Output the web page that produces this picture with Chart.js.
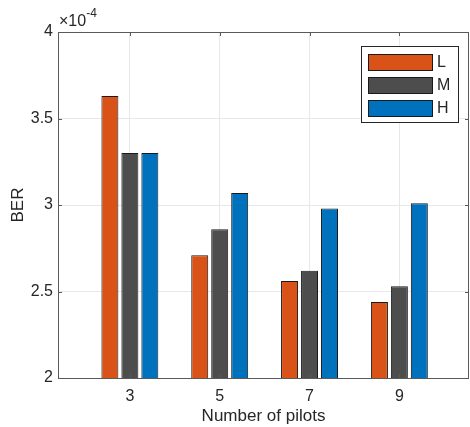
<!DOCTYPE html>
<html>
<head>
<meta charset="utf-8">
<script src="https://cdn.jsdelivr.net/npm/chart.js@4"></script>
<style>
html, body { margin: 0; padding: 0; background: #fff; }
#ber { display: block; }
</style>
</head>
<body>
<canvas id="ber" width="470" height="427"></canvas>
<script>
// values are in units of 1e-4
const pilots = [3, 5, 7, 9];
const berL = [3.63, 2.71, 2.56, 2.44];
const berM = [3.30, 2.86, 2.62, 2.53];
const berH = [3.30, 3.07, 2.98, 3.01];
const yTicks = [2, 2.5, 3, 3.5, 4];
const seriesNames = ['L', 'M', 'H'];
const seriesColors = ['#D95319', '#4D4D4D', '#0072BD'];

const FONT = '"Liberation Sans", Arial, Helvetica, sans-serif';
const INK = '#262626';

function points(vals) {
    return pilots.map((p, i) => ({ x: p, y: vals[i] }));
}

// box, inward ticks, exponent and legend like a matlab figure
const matlabAxes = {
    id: 'matlabAxes',
    afterDatasetsDraw(chart) {
        const ctx = chart.ctx;
        const a = chart.chartArea;
        const xs = chart.scales.x;
        const ys = chart.scales.y;
        ctx.save();
        ctx.strokeStyle = '#5a5a5a';
        ctx.lineWidth = 1;
        ctx.beginPath();
        ctx.rect(Math.round(a.left) + 0.5, Math.round(a.top) + 0.5,
                 Math.round(a.right - a.left) - 1, Math.round(a.bottom - a.top));
        ctx.stroke();

        ctx.beginPath();
        pilots.forEach(p => {
            const x = Math.round(xs.getPixelForValue(p)) + 0.5;
            ctx.moveTo(x, a.bottom); ctx.lineTo(x, a.bottom - 4);
            ctx.moveTo(x, a.top); ctx.lineTo(x, a.top + 4);
        });
        yTicks.forEach(v => {
            const y = Math.round(ys.getPixelForValue(v)) + 0.5;
            ctx.moveTo(a.left, y); ctx.lineTo(a.left + 4, y);
            ctx.moveTo(a.right, y); ctx.lineTo(a.right - 4, y);
        });
        ctx.stroke();

        // x10^-4
        ctx.fillStyle = INK;
        ctx.textBaseline = 'alphabetic';
        ctx.textAlign = 'left';
        ctx.font = '16px ' + FONT;
        ctx.fillText('\u00d710', a.left + 1, a.top - 6);
        const w = ctx.measureText('\u00d710').width;
        ctx.font = '12px ' + FONT;
        ctx.fillText('-4', a.left + 1 + w, a.top - 15);

        // legend
        const lx = 361, ly = 46, lw = 97, lh = 76;
        ctx.fillStyle = '#fff';
        ctx.fillRect(lx, ly, lw, lh);
        ctx.strokeStyle = INK;
        ctx.strokeRect(lx + 0.5, ly + 0.5, lw, lh);
        ctx.font = '16px ' + FONT;
        ctx.textBaseline = 'middle';
        chart.data.datasets.forEach((ds, i) => {
            const cy = ly + 16 + i * 23;
            ctx.fillStyle = ds.backgroundColor;
            ctx.fillRect(lx + 7, cy - 8, 64, 17);
            ctx.strokeStyle = '#1a1a1a';
            ctx.strokeRect(lx + 7.5, cy - 7.5, 64, 16);
            ctx.fillStyle = INK;
            ctx.fillText(ds.label, lx + 76, cy + 1);
        });
        ctx.restore();
    }
};

const config = {
    type: 'bar',
    data: {
        datasets: seriesNames.map((name, i) => ({
            label: name,
            data: points([berL, berM, berH][i]),
            backgroundColor: seriesColors[i],
            borderColor: '#1a1a1a',
            borderWidth: 1,
            categoryPercentage: 0.667,
            barPercentage: 0.85
        }))
    },
    options: {
        responsive: false,
        animation: false,
        layout: {
            padding: { top: 32, right: 1, left: 0, bottom: 0 }
        },
        plugins: {
            legend: { display: false },
            tooltip: { enabled: false }
        },
        scales: {
            x: {
                type: 'linear',
                min: 1.4,
                max: 10.55,
                offset: false,
                afterBuildTicks: s => { s.ticks = pilots.map(v => ({ value: v })); },
                afterFit: s => { s.height = 49; },
                ticks: {
                    color: INK,
                    padding: 9,
                    font: { family: FONT, size: 16 }
                },
                grid: { color: '#e8e8e8', drawTicks: false, offset: false },
                border: { display: false },
                title: {
                    display: true,
                    text: 'Number of pilots',
                    color: INK,
                    padding: { top: 0, bottom: 0 },
                    font: { family: FONT, size: 17 }
                }
            },
            y: {
                min: 2,
                max: 4,
                afterBuildTicks: s => { s.ticks = yTicks.map(v => ({ value: v })); },
                afterFit: s => { s.width = 58; },
                ticks: {
                    color: INK,
                    padding: 5,
                    callback: v => String(v),
                    font: { family: FONT, size: 16 }
                },
                grid: { color: '#e8e8e8', drawTicks: false },
                border: { display: false },
                title: {
                    display: true,
                    text: 'BER',
                    color: INK,
                    padding: { top: 8, bottom: 0 },
                    font: { family: FONT, size: 17 }
                }
            }
        }
    },
    plugins: [matlabAxes]
};

const berChart = new Chart(document.getElementById('ber'), config);
</script>
</body>
</html>
